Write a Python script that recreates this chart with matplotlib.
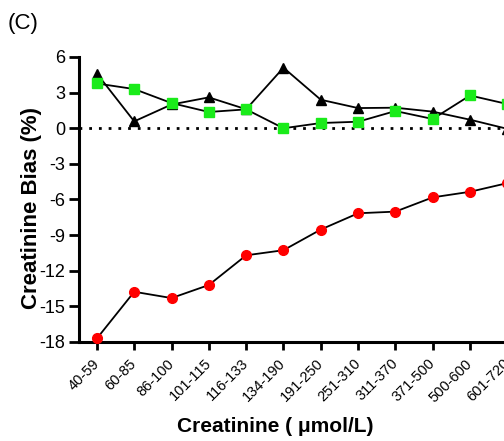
import matplotlib
matplotlib.use("Agg")
import matplotlib.pyplot as plt

plt.rcParams['font.family'] = ['Liberation Sans', 'DejaVu Sans']

categories = ["40-59", "60-85", "86-100", "101-115", "116-133", "134-190",
              "191-250", "251-310", "311-370", "371-500", "500-600", "601-720"]
bias_triangle = [4.6, 0.58, 2.0, 2.6, 1.6, 5.1, 2.4, 1.7, 1.73, 1.4, 0.72, -0.05]
bias_square = [3.77, 3.3, 2.12, 1.37, 1.59, 0.0, 0.44, 0.55, 1.45, 0.78, 2.76, 2.04]
bias_circle = [-17.7, -13.77, -14.3, -13.2, -10.7, -10.27, -8.53, -7.16, -7.02,
               -5.82, -5.35, -4.62]
yticks = [6, 3, 0, -3, -6, -9, -12, -15, -18]

fig = plt.figure(figsize=(5.04, 4.41), dpi=100)
ax = fig.add_axes([79/504, 99/441, 447/504, 285/441])

x = list(range(len(categories)))
ax.axhline(0, color='black', linestyle=(0, (1, 2.5)), linewidth=2, zorder=1)
ax.plot(x, bias_triangle, color='black', linewidth=1.3, marker='^',
        markersize=7, markerfacecolor='black', markeredgecolor='black',
        zorder=3, clip_on=False)
ax.plot(x, bias_square, color='black', linewidth=1.3, marker='s',
        markersize=7, markerfacecolor='#1aeb1a', markeredgecolor='#1aeb1a',
        zorder=4, clip_on=False)
ax.plot(x, bias_circle, color='black', linewidth=1.3, marker='o',
        markersize=7, markerfacecolor='#ff0000', markeredgecolor='#ff0000',
        zorder=3, clip_on=False)

ax.set_xlim(-0.48, 11.5)
ax.set_ylim(-18, 6)
ax.set_yticks(yticks)
ax.set_yticklabels([str(t) for t in yticks])
ax.set_xticks(x)
ax.set_xticklabels(categories, rotation=45, ha='right', va='center',
                   rotation_mode='anchor', fontsize=10.5)
ax.tick_params(axis='y', labelsize=13, width=2, length=7, pad=3)
ax.tick_params(axis='x', width=2, length=6, pad=8)

for s in ['top', 'right']:
    ax.spines[s].set_visible(False)
for s in ['left', 'bottom']:
    ax.spines[s].set_linewidth(2.2)

ax.set_ylabel('Creatinine Bias (%)', fontsize=16, fontweight='bold')
ax.yaxis.set_label_coords(-0.083, 0.47)
ax.set_xlabel('Creatinine ( μmol/L)', fontsize=15, fontweight='bold')
ax.xaxis.set_label_coords(0.438, -0.262)

fig.text(8/504, 1 - 24/441, '(C)', fontsize=16, va='center', ha='left')

fig.savefig('out.png', dpi=100)
